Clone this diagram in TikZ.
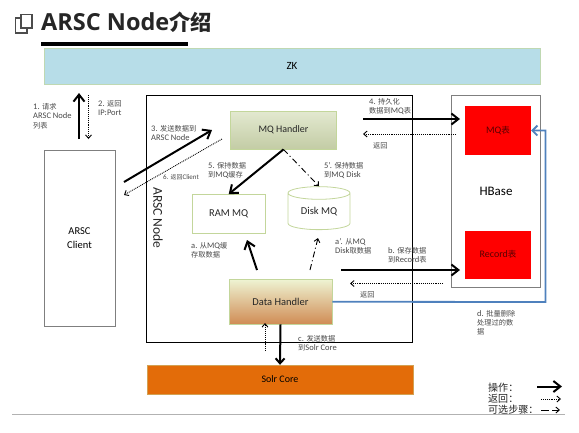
\documentclass[tikz,border=0pt]{standalone}
\usepackage{fontspec}
\usepackage{xcolor}
\usetikzlibrary{arrows.meta,shapes.geometric}
\setmainfont{Carlito}
\newfontfamily\cjk[Scale=0.85]{Noto Sans CJK SC}
\newfontfamily\titlefont{Open Sans}
\newcommand{\zh}[1]{{\cjk #1}}
\definecolor{zkblue}{HTML}{B7DDE8}
\definecolor{boxedge}{HTML}{C3D69B}
\definecolor{solrorange}{HTML}{E36C09}
\definecolor{linkblue}{HTML}{4F81BD}
\definecolor{labelgray}{HTML}{484848}
\definecolor{framegray}{HTML}{7F7F7F}
\definecolor{mqtop}{HTML}{E3E9D0}
\definecolor{mqbottom}{HTML}{C3CCA5}
\definecolor{datatop}{HTML}{EEF3D2}
\definecolor{databottom}{HTML}{D08C55}
\tikzset{
  opstep/.style={-{Straight Barb[length=7pt,width=11pt]}, line width=2pt, black},
  backstep/.style={-{Straight Barb[length=3.5pt,width=6pt]}, line width=0.9pt, densely dotted, black},
  optstep/.style={-{Straight Barb[length=3.5pt,width=6pt]}, line width=0.9pt, dash pattern=on 6pt off 3pt on 1pt off 3pt, black},
  steplabel/.style={anchor=north west, align=left, inner sep=0pt, font=\fontsize{8.5}{9.5}\selectfont, text=labelgray},
  mainbox/.style={draw=boxedge, line width=0.8pt, inner sep=0pt, font=\fontsize{10.5}{12}\selectfont, text=black!85},
  redtable/.style={fill=red, minimum width=66pt, minimum height=48.5pt, inner sep=0pt, font=\fontsize{10}{12}\selectfont, text=black!65!red},
  legendtext/.style={anchor=west, inner sep=0pt, font=\fontsize{11.8}{12}\selectfont, text=black!85}
}
\begin{document}
\begin{tikzpicture}[x=1pt, y=-1pt]
  \useasboundingbox (0,0) rectangle (579,432);
  \node[anchor=base west, inner sep=0pt, font=\fontsize{23.5}{24}\selectfont\bfseries, text=black!85] (titletext) at (41,30) {\titlefont ARSC Node{\fontsize{25}{24}\selectfont\zh{介绍}}};
  \draw[black!70, line width=1.5pt] (15.5,18) rectangle (27,33);
  \draw[black!70, line width=1.5pt, fill=white] (21,14.5) rectangle (32,28);
  \draw[black, line width=4pt] (41,44) -- (187.5,44);
  \node[fill=zkblue, draw=boxedge!70!zkblue, minimum width=496pt, minimum height=36pt, inner sep=0pt, font=\fontsize{11}{13}\selectfont] (zk) at (292,66) {ZK};
  \node[draw=black, line width=0.9pt, minimum width=266pt, minimum height=247pt, inner sep=0pt] (arscnode) at (279,218.5) {};
  \node[rotate=-90, inner sep=0pt, font=\fontsize{13.5}{14}\selectfont, text=black!85] (arsclabel) at (158,218) {ARSC Node};
  \node[draw=framegray, line width=0.6pt, fill=white, minimum width=71pt, minimum height=176pt, inner sep=0pt, align=center, font=\fontsize{10.5}{14}\selectfont] (client) at (79.5,238) {ARSC\\Client};
  \node[mainbox, top color=mqtop, bottom color=mqbottom, minimum width=106.5pt, minimum height=38pt, font=\fontsize{10}{12}\selectfont] (mqhandler) at (283.5,130) {MQ Handler};
  \node[mainbox, fill=white, minimum width=73.5pt, minimum height=39pt] (rammq) at (228.7,214) {RAM MQ};
  \node[mainbox, fill=white, cylinder, shape border rotate=90, aspect=0.35, minimum width=62pt, minimum height=43pt] (diskmq) at (319,211.5) {Disk MQ};
  \node[mainbox, top color=datatop, bottom color=databottom, minimum width=103pt, minimum height=44.5pt] (datahandler) at (280.5,301.75) {Data Handler};
  \node[fill=solrorange, draw=boxedge!50!solrorange, minimum width=266pt, minimum height=29pt, inner sep=0pt, font=\fontsize{10}{12}\selectfont] (solr) at (280,379.5) {Solr Core};
  \node[draw=framegray, line width=0.8pt, fill=white, minimum width=88.5pt, minimum height=192pt, inner sep=0pt, font=\fontsize{13}{14}\selectfont] (hbase) at (496,191) {HBase};
  \node[redtable] (mqtable) at (498,130.5) {MQ\zh{表}};
  \node[redtable] (recordtable) at (498,254.75) {Record\zh{表}};
  \coordinate (zklow) at (79,93);
  \coordinate (clienthigh) at (79,139);
  \coordinate (zkback) at (88.5,95);
  \coordinate (clientback) at (88.5,139);
  \coordinate (sendstart) at (124,182);
  \coordinate (sendend) at (212,130);
  \coordinate (replystart) at (222,139);
  \coordinate (replyend) at (124,195);
  \coordinate (persiststart) at (363,119);
  \coordinate (persistend) at (460,119);
  \coordinate (persistback) at (456,134);
  \coordinate (persistbackend) at (363,134);
  \coordinate (savestart) at (341,270);
  \coordinate (saveend) at (460,270);
  \coordinate (saveback) at (443,283.5);
  \coordinate (savebackend) at (350,283.5);
  \coordinate (ramfrom) at (257,270);
  \coordinate (ramto) at (247,240);
  \coordinate (diskfrom) at (310,270);
  \coordinate (diskto) at (318,238);
  \coordinate (solrback) at (265,351);
  \coordinate (solrbackend) at (265,323);
  \coordinate (bluecorner) at (545.5,302);
  \draw[opstep] (clienthigh) -- (zklow);
  \draw[backstep] (zkback) -- (clientback);
  \draw[opstep] (sendstart) -- (sendend);
  \draw[backstep] (replystart) -- (replyend);
  \draw[opstep] (mqhandler.south) -- (rammq.north);
  \draw[optstep] (mqhandler.south) -- (diskmq.top);
  \draw[opstep] (persiststart) -- (persistend);
  \draw[backstep] (persistback) -- (persistbackend);
  \draw[opstep] (savestart) -- (saveend);
  \draw[backstep] (saveback) -- (savebackend);
  \draw[opstep] (ramfrom) -- (ramto);
  \draw[optstep] (diskfrom) -- (diskto);
  \draw[opstep, -{Straight Barb[length=5pt,width=9pt]}] (datahandler.south) -- (solr.north);
  \draw[backstep] (solrback) -- (solrbackend);
  \draw[linkblue, line width=1.8pt, -{Straight Barb[length=5pt,width=10pt]}] (datahandler.east) -- (bluecorner) |- (mqtable.east);
  \node[steplabel] (label1) at (33,103) {1. \zh{请求}\\ARSC Node\\\zh{列表}};
  \node[steplabel] (label2) at (98,100) {2. \zh{返回}\\IP:Port};
  \node[steplabel] (label3) at (151,125) {3. \zh{发送数据到}\\ARSC Node};
  \node[steplabel, font=\fontsize{7}{8}\selectfont] (label6) at (163,174.5) {6. \zh{返回}Client};
  \node[steplabel] (label5) at (208,162) {5. \zh{保持数据}\\\zh{到}MQ\zh{缓存}};
  \node[steplabel] (label5b) at (324,162) {5'. \zh{保持数据}\\\zh{到}MQ Disk};
  \node[steplabel] (label4) at (369,98) {4. \zh{持久化}\\\zh{数据到}MQ\zh{表}};
  \node[steplabel] (backlabel1) at (373,142) {\zh{返回}};
  \node[steplabel] (labela) at (191,242) {a. \zh{从}MQ\zh{缓}\\\zh{存取数据}};
  \node[steplabel] (labelab) at (335,238) {a'. \zh{从}MQ\\Disk\zh{取数据}};
  \node[steplabel] (labelb) at (388,247) {b. \zh{保存数据}\\\zh{到}Record\zh{表}};
  \node[steplabel] (backlabel2) at (360,291) {\zh{返回}};
  \node[steplabel] (labelc) at (298,335) {c. \zh{发送数据}\\\zh{到}Solr Core};
  \node[steplabel, font=\fontsize{8.5}{8.7}\selectfont] (labeld) at (477,310.5) {d. \zh{批量删除}\\\zh{处理过的数}\\\zh{据}};
  \draw[black!30, line width=0.7pt] (12,414.5) -- (565,414.5);
  \node[legendtext] (legendop) at (488,387.5) {\zh{操作：}};
  \node[legendtext] (legendback) at (488,399) {\zh{返回：}};
  \node[legendtext] (legendopt) at (488,410) {\zh{可选步骤：}};
  \coordinate (legendopa) at (537,386.5);
  \coordinate (legendopb) at (562,386.5);
  \coordinate (legendbacka) at (541,399);
  \coordinate (legendbackb) at (561,399);
  \coordinate (legendopta) at (541,410);
  \coordinate (legendoptb) at (560,410);
  \draw[opstep] (legendopa) -- (legendopb);
  \draw[backstep] (legendbacka) -- (legendbackb);
  \draw[optstep, dash pattern=on 8pt off 3pt] (legendopta) -- (legendoptb);
\end{tikzpicture}
\end{document}
